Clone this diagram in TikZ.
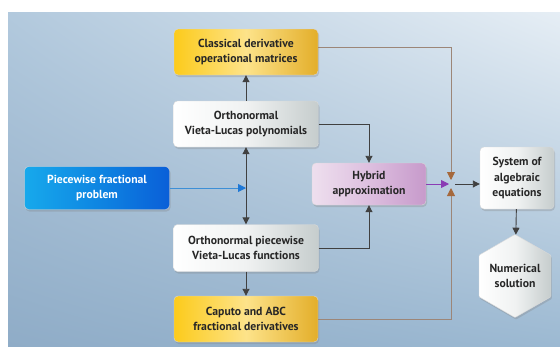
\documentclass[tikz,border=0pt]{standalone}
\usepackage{fontspec}
\setmainfont{PT Sans}
\usetikzlibrary{arrows.meta, shapes.geometric, shadows, shadings, positioning}

\definecolor{bgUL}{HTML}{B2C9DD}
\definecolor{bgUR}{HTML}{E6EEF5}
\definecolor{bgLL}{HTML}{8FACC7}
\definecolor{bgLR}{HTML}{9CB9D2}
\definecolor{goldL}{HTML}{FCCB1B}
\definecolor{goldM}{HTML}{FDE38A}
\definecolor{goldR}{HTML}{E3AE2A}
\definecolor{greyM}{HTML}{F0F2F2}
\definecolor{greyR}{HTML}{C6CDCD}
\definecolor{blueL}{HTML}{17A9EC}
\definecolor{blueM}{HTML}{0E86E2}
\definecolor{blueR}{HTML}{0A5FD8}
\definecolor{pinkL}{HTML}{EEDFEE}
\definecolor{pinkM}{HTML}{DDBFDF}
\definecolor{pinkR}{HTML}{C79ACB}
\definecolor{linkbrown}{HTML}{9C8678}
\definecolor{tipbrown}{HTML}{A5683C}
\definecolor{linkpurple}{HTML}{8A3CB4}
\definecolor{linkblue}{HTML}{3D8FD6}
\definecolor{tipblue}{HTML}{1E78D6}

\tikzset{
  box/.style={rounded corners=4pt, align=center, inner sep=2pt,
    font=\bfseries\fontsize{11.7}{15.5}\selectfont, text=black!85,
    draw=white!70!gray, line width=0.4pt,
    drop shadow={opacity=0.3, shadow xshift=1pt, shadow yshift=-2pt}},
  goldbox/.style={box, left color=goldL, right color=goldR, middle color=goldM},
  greybox/.style={box, left color=white, right color=greyR, middle color=greyM},
  bluebox/.style={box, left color=blueL, right color=blueR, middle color=blueM, text=white},
  pinkbox/.style={box, left color=pinkL, right color=pinkR, middle color=pinkM},
  link/.style={line width=0.9pt, draw=black!75, -{Triangle[length=7pt,width=7pt]}},
  brownlink/.style={line width=0.9pt, draw=linkbrown,
    -{Triangle[length=8pt,width=8pt,color=tipbrown]}},
}

\begin{document}
\begin{tikzpicture}[x=1pt, y=-1pt]
    % Khung nền
    \useasboundingbox (0,0) rectangle (560,346);
    \shade[upper left=bgUL, upper right=bgUR, lower left=bgLL, lower right=bgLR]
        (8,12) rectangle (560,346);

    % Các khối
    \node[goldbox, minimum width=144pt, minimum height=46pt] (classical) at (246,52)
        {Classical derivative\\operational matrices};
    \node[greybox, minimum width=145pt, minimum height=46pt] (ortho) at (246,124)
        {Orthonormal\\Vieta-Lucas polynomials};
    \node[bluebox, minimum width=145pt, minimum height=43pt] (problem) at (97,188)
        {Piecewise fractional\\problem};
    \node[pinkbox, minimum width=114pt, minimum height=42pt] (hybrid) at (369,184)
        {Hybrid\\approximation};
    \node[greybox, minimum width=145pt, minimum height=47pt] (piecewise) at (246,248)
        {Orthonormal piecewise\\Vieta-Lucas functions};
    \node[goldbox, minimum width=144pt, minimum height=46pt] (caputo) at (246,319)
        {Caputo and ABC\\fractional derivatives};
    \node[greybox, minimum width=74pt, minimum height=62pt] (system) at (517,178)
        {System of\\algebraic\\equations};
    \node[greybox, rounded corners=1pt, regular polygon, regular polygon sides=6,
        shape border rotate=30, minimum size=72pt, inner sep=0pt] (numsol) at (515,276)
        {Numerical\\solution};
    \coordinate (jn) at (451,184);

    % Các mũi tên
    \draw[link] (ortho) -- (classical);
    \draw[link, {Triangle[length=7pt,width=7pt]}-{Triangle[length=7pt,width=7pt]}]
        (ortho) -- (piecewise);
    \draw[line width=0.9pt, draw=linkblue,
        -{Triangle[length=8pt,width=8pt,color=tipblue]}]
        (problem.east) -- (problem.east -| ortho.south);
    \draw[link] (ortho.east) -| (hybrid.north);
    \draw[link] (piecewise.east) -| (hybrid.south);
    \draw[link] (piecewise) -- (caputo);
    \draw[brownlink] ([yshift=5pt]classical.east) -| ([yshift=4pt]jn);
    \draw[brownlink] (caputo.east) -| ([yshift=-4pt]jn);
    \draw[line width=0.9pt, draw=linkpurple,
        -{Triangle[length=8pt,width=8pt]}] (hybrid.east) -- ([xshift=-2pt]jn);
    \draw[link] ([xshift=4pt]jn) -- (system.west |- jn);
    \draw[link] (system) -- (numsol);
\end{tikzpicture}
\end{document}
